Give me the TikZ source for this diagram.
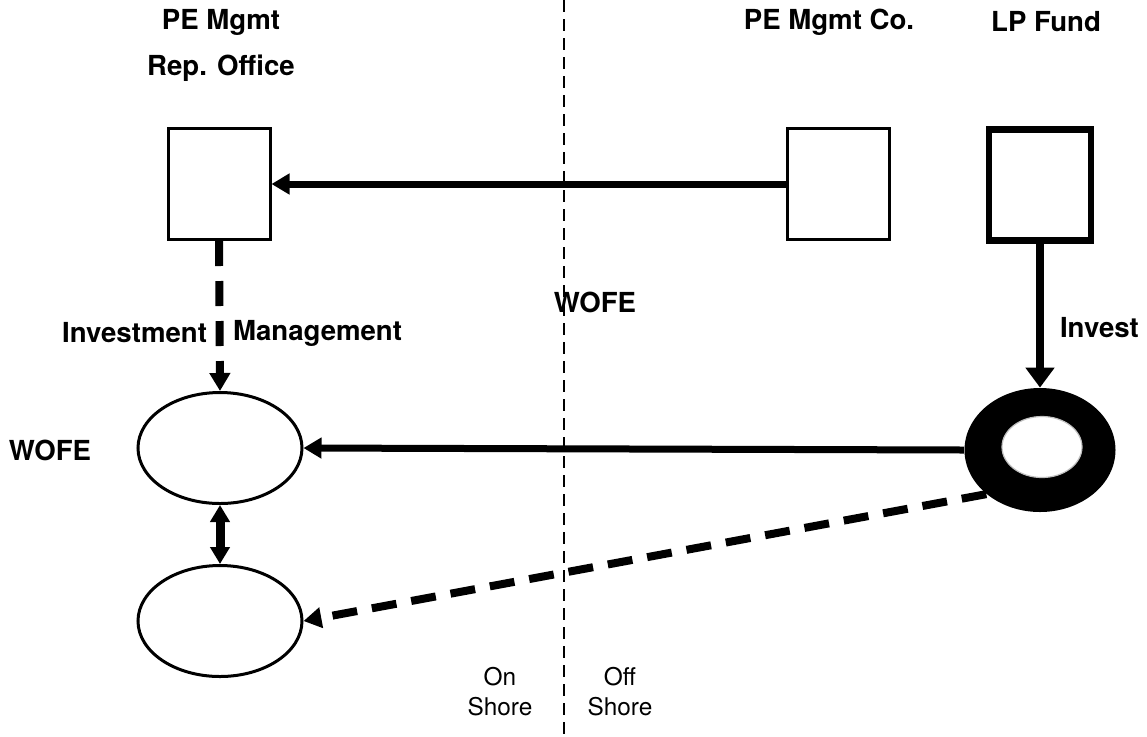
\documentclass[tikz,border=0pt]{standalone}
\usepackage{fontspec}
\setmainfont{TeX Gyre Heros}
\usetikzlibrary{positioning,
        shapes,
        arrows.meta}

\begin{document}
\begin{tikzpicture}[x=0.5pt,y=-0.5pt,
        lbl/.style={font=\fontsize{13.8}{16}\selectfont\bfseries},
        shore/.style={font=\fontsize{12.2}{15}\selectfont,align=center},
        box/.style={rectangle,draw,line width=1.5pt,minimum width=51pt,minimum height=55.5pt,inner sep=0pt},
        oval/.style={ellipse,draw,line width=1.5pt,minimum width=82pt,minimum height=55.5pt,inner sep=0pt},
        flow/.style={-{Triangle[length=9pt,width=10pt]},line width=3.5pt},
        dflow/.style={flow,line width=4pt,dash pattern=on 12.5pt off 7.5pt}]
        \useasboundingbox (0,0) rectangle (1147,736);

        % shore line
        \coordinate (top) at (564,0);
        \coordinate (bot) at (564,736);
        \draw [line width=1.2pt,dash pattern=on 6pt off 3.5pt] (top) -- (bot);

        \node [box] (rep) at (219,184) {};
        \node [box] (mgmtco) at (838,184) {};
        \node [box,line width=3.3pt] (fund) at (1040,185) {};
        \node [oval] (wofe) at (220,448) {};
        \node [oval] (sub) at (220,621) {};
        \node [ellipse,fill=black,minimum width=75.5pt,minimum height=62pt,inner sep=0pt] (lp) at (1040,450) {};
        \node [ellipse,fill=white,draw=gray!50,line width=0.6pt,minimum width=40pt,minimum height=30.5pt,inner sep=0pt] (hole) at (1042,447) {};

        \node [lbl] (pemgmt) at (221,22) {PE Mgmt};
        \node [lbl] (repoff) at (221,68) {Rep. Office};
        \node [lbl] (mgmtlbl) at (829,22) {PE Mgmt Co.};
        \node [lbl] (fundlbl) at (1046,22) {LP Fund};
        \node [lbl] (wofemid) at (595,302) {WOFE};
        \node [lbl,anchor=east] (inv) at (214,333) {Investment};
        \node [lbl,anchor=west] (mgt) at (226,333) {Management};
        \node [lbl,anchor=west] (invest) at (1053,328) {Invest};
        \node [lbl] (wofeleft) at (50,450) {WOFE};
        \node [shore] (on) at (500,692) {On\\Shore};
        \node [shore] (off) at (620,692) {Off\\Shore};

        \draw [flow] (mgmtco.west) -- (rep.east);
        \draw [flow] (lp.west) -- (wofe.east);
        \draw [flow,line width=4pt,-{Triangle[length=10pt,width=14pt]}] (fund.south) -- (lp.north);
        \draw [dflow] (rep.south) -- (wofe.north);
        \draw [{Triangle[length=8.5pt,width=9.5pt]}-{Triangle[length=8.5pt,width=9.5pt]},line width=4.5pt] (wofe.south) -- (sub.north);
        \draw [dflow] (lp.south west) -- (sub.east);
    \end{tikzpicture}
\end{document}
